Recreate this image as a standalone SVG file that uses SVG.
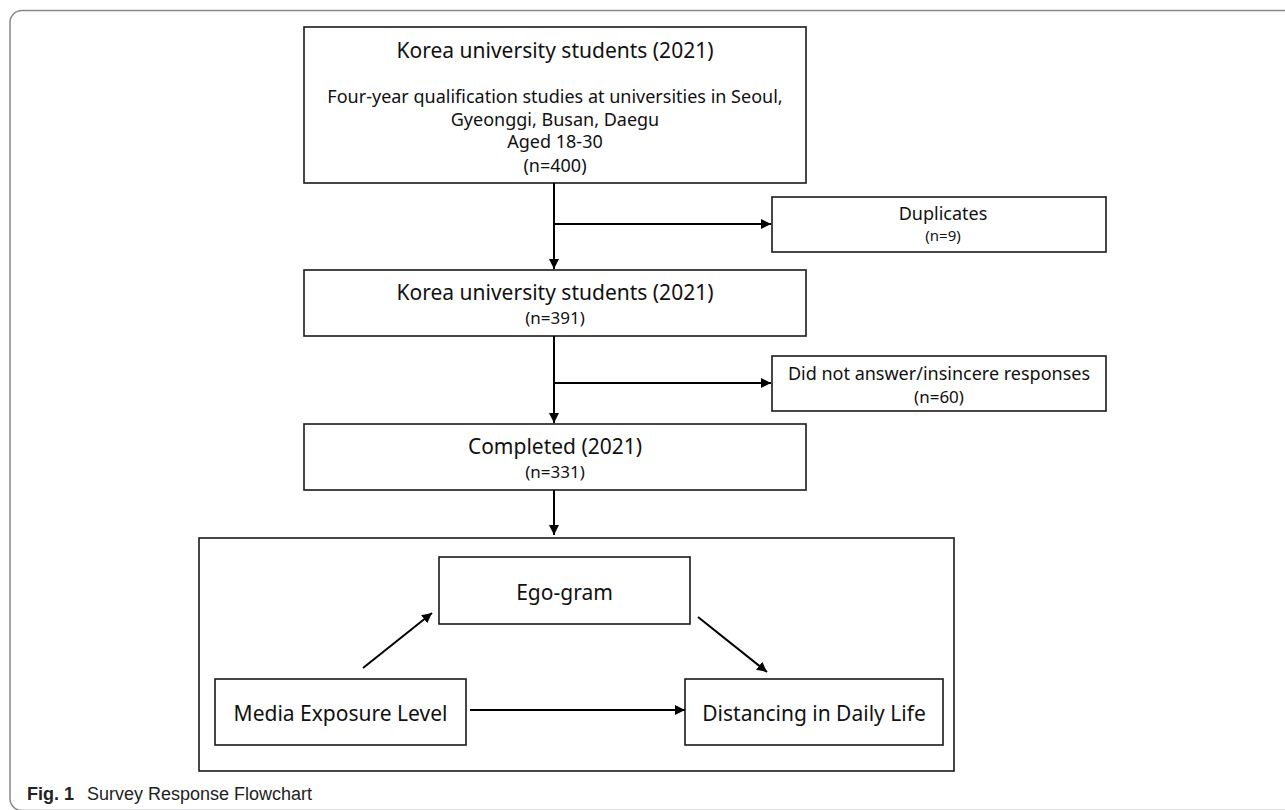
<svg xmlns="http://www.w3.org/2000/svg" width="1285" height="810" viewBox="0 0 1285 810">
<style>
.box{fill:#fff;stroke:#1a1a1a;stroke-width:1.6}
.t{font-family:"Noto Sans","Open Sans",sans-serif;fill:#111;text-anchor:middle}
.big{font-size:21px}
.sm{font-size:18px}
.n{font-size:17px}
.xs{font-size:15px}
.con{stroke:#000;stroke-width:2;fill:none}
.cap{font-family:"Liberation Sans",Arial,sans-serif;font-size:18px;fill:#222}
</style>
<defs>
<marker id="ah" markerUnits="userSpaceOnUse" markerWidth="10" markerHeight="10" refX="10" refY="5" orient="auto" viewBox="0 0 10 10">
<path d="M0,0 L10,5 L0,10 z" fill="#000"/>
</marker>
</defs>
<rect x="0" y="0" width="1285" height="810" fill="#fff"/>
<rect x="10" y="10.5" width="1300" height="800" rx="12" ry="12" fill="none" stroke="#888" stroke-width="1.5"/>

<g id="box1">
<rect class="box" x="304" y="27" width="502" height="156"/>
<text class="t big" x="555" y="58">Korea university students (2021)</text>
<text class="t sm" x="555" y="103">Four-year qualification studies at universities in Seoul,</text>
<text class="t sm" x="555" y="126">Gyeonggi, Busan, Daegu</text>
<text class="t sm" x="555" y="148">Aged 18-30</text>
<text class="t sm" x="555" y="172">(n=400)</text>
</g>
<g id="dup">
<rect class="box" x="772" y="197" width="334" height="55"/>
<text class="t sm" x="943" y="220">Duplicates</text>
<text class="t xs" x="943" y="241">(n=9)</text>
</g>
<g id="box2">
<rect class="box" x="304" y="270" width="502" height="66"/>
<text class="t big" x="555" y="300">Korea university students (2021)</text>
<text class="t n" x="555" y="324">(n=391)</text>
</g>
<g id="excl">
<rect class="box" x="772" y="356" width="334" height="55"/>
<text class="t sm" x="939" y="380">Did not answer/insincere responses</text>
<text class="t n" x="939" y="403">(n=60)</text>
</g>
<g id="box4">
<rect class="box" x="304" y="424" width="502" height="66"/>
<text class="t big" x="555" y="454">Completed (2021)</text>
<text class="t n" x="555" y="478">(n=331)</text>
</g>
<g id="frame">
<rect class="box" x="199" y="538" width="755" height="233"/>
</g>
<g id="ego">
<rect class="box" x="439" y="557" width="251" height="67"/>
<text class="t big" x="564.5" y="600">Ego-gram</text>
</g>
<g id="media">
<rect class="box" x="215" y="679" width="251" height="66"/>
<text class="t big" x="340.5" y="721">Media Exposure Level</text>
</g>
<g id="dist">
<rect class="box" x="685" y="679" width="258" height="66"/>
<text class="t big" x="814" y="721">Distancing in Daily Life</text>
</g>

<g id="connectors">
<line class="con" x1="554" y1="183" x2="554" y2="269" marker-end="url(#ah)"/>
<line class="con" x1="554" y1="224" x2="771" y2="224" marker-end="url(#ah)"/>
<line class="con" x1="554" y1="336" x2="554" y2="423" marker-end="url(#ah)"/>
<line class="con" x1="554" y1="383" x2="771" y2="383" marker-end="url(#ah)"/>
<line class="con" x1="554" y1="490" x2="554" y2="535" marker-end="url(#ah)"/>
<line class="con" x1="363" y1="668" x2="432" y2="613" marker-end="url(#ah)"/>
<line class="con" x1="698" y1="617" x2="767" y2="672" marker-end="url(#ah)"/>
<line class="con" x1="470" y1="710" x2="685" y2="710" marker-end="url(#ah)"/>
</g>

<text class="cap" x="27" y="800"><tspan font-weight="bold">Fig. 1</tspan><tspan x="87">Survey Response Flowchart</tspan></text>
</svg>
